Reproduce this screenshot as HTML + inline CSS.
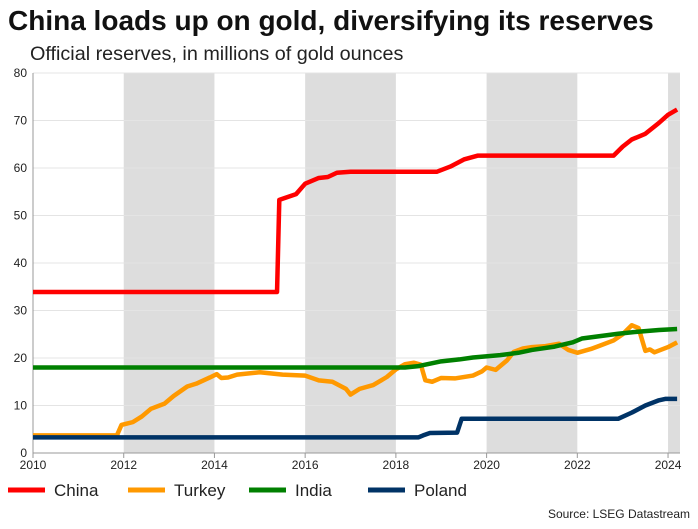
<!DOCTYPE html>
<html><head><meta charset="utf-8"><style>
body{margin:0;background:#fff;width:698px;height:524px;overflow:hidden;font-family:"Liberation Sans",sans-serif}
</style></head><body>
<svg width="698" height="524" font-family="Liberation Sans, sans-serif">
<text x="8" y="30" font-size="28" font-weight="bold" fill="#111">China loads up on gold, diversifying its reserves</text>
<text x="30" y="60" font-size="19.8" fill="#222">Official reserves, in millions of gold ounces</text>
<g id="bands"></g><g id="grid"></g><g id="axes"></g><g id="lines"></g>
<g id="legend"></g>
<text x="690" y="518" font-size="12" text-anchor="end" fill="#222">Source: LSEG Datastream</text>
</svg>
<script>
const yTicks=[0,10,20,30,40,50,60,70,80];
const xTicks=[2010,2012,2014,2016,2018,2020,2022,2024];
const bandStarts=[2012,2016,2020,2024];
const seriesNames=["China","Turkey","India","Poland"];
const seriesColors=["#ff0000","#ff9900","#008000","#003366"];
const chinaYears=[2010,2015.38,2015.43,2015.8,2016,2016.3,2016.5,2016.7,2017,2018.9,2019.2,2019.5,2019.8,2022.8,2023,2023.2,2023.5,2023.8,2024,2024.2];
const chinaVals=[33.9,33.9,53.3,54.5,56.7,57.9,58.1,59,59.2,59.2,60.3,61.8,62.6,62.6,64.5,66,67.2,69.5,71.2,72.3];
const turkeyYears=[2010,2011.85,2011.95,2012.2,2012.4,2012.6,2012.9,2013.1,2013.4,2013.6,2013.9,2014.05,2014.15,2014.3,2014.5,2015,2015.5,2016,2016.3,2016.6,2016.9,2017,2017.2,2017.5,2017.8,2018,2018.2,2018.4,2018.55,2018.65,2018.8,2019,2019.3,2019.7,2019.9,2020,2020.2,2020.45,2020.6,2020.8,2021,2021.3,2021.6,2021.8,2022,2022.3,2022.5,2022.8,2023,2023.2,2023.35,2023.5,2023.6,2023.7,2024,2024.2];
const turkeyVals=[3.7,3.7,5.9,6.5,7.7,9.3,10.4,12,14,14.6,15.9,16.6,15.8,15.9,16.5,17,16.5,16.3,15.3,15,13.5,12.3,13.5,14.3,16,17.6,18.7,19,18.6,15.3,15,15.8,15.7,16.3,17.2,18,17.5,19.5,21.3,22,22.3,22.5,23,21.7,21.1,21.9,22.6,23.7,25,26.9,26.3,21.5,21.8,21.2,22.3,23.3];
const indiaYears=[2010,2018.2,2018.5,2019,2019.4,2019.7,2020.3,2020.7,2021,2021.5,2021.9,2022.1,2022.5,2022.9,2023.3,2023.8,2024.2];
const indiaVals=[18,18,18.3,19.3,19.7,20.1,20.6,21.1,21.7,22.4,23.3,24.1,24.6,25.1,25.5,25.9,26.1];
const polandYears=[2010,2018.5,2018.6,2018.75,2019.35,2019.45,2022.9,2023.2,2023.5,2023.8,2023.95,2024.2];
const polandVals=[3.3,3.3,3.7,4.2,4.3,7.2,7.2,8.5,10,11.1,11.4,11.4];
const NS="http://www.w3.org/2000/svg";
const X0=33,X1=680,Y0=453,Y1=73;
const xs=y=>X0+(y-2010)*45.36;
const ys=v=>Y0-v*(Y0-Y1)/80;
function mk(t,a,p){const e=document.createElementNS(NS,t);for(const k in a)e.setAttribute(k,a[k]);p.appendChild(e);return e;}
const bands=document.getElementById('bands'),grid=document.getElementById('grid'),axes=document.getElementById('axes'),lines=document.getElementById('lines'),legend=document.getElementById('legend');
bandStarts.forEach(b=>{const x1=xs(b),x2=Math.min(xs(b+2),X1);
const r=mk('rect',{x:x1,y:Y1,width:x2-x1,height:Y0-Y1,fill:'#dddddd'},bands);

});
yTicks.forEach(t=>{const l=mk('line',{x1:X0,x2:X1,y1:ys(t),y2:ys(t),stroke:'#e4e4e4','stroke-width':1},grid);


const tx=mk('text',{x:27,y:ys(t)+4,'font-size':12,'text-anchor':'end',fill:'#222'},axes);tx.textContent=t;

});
mk('line',{x1:X0,x2:X0,y1:Y1,y2:Y0,stroke:'#999','stroke-width':1},axes);
mk('line',{x1:X0,x2:X1,y1:Y0,y2:Y0,stroke:'#999','stroke-width':1},axes);
xTicks.forEach(t=>{mk('line',{x1:xs(t),x2:xs(t),y1:Y0,y2:Y0+5,stroke:'#999'},axes);
const tx=mk('text',{x:xs(t),y:Y0+16,'font-size':12,'text-anchor':'middle',fill:'#222'},axes);tx.textContent=t;

});
const data=[[chinaYears,chinaVals],[turkeyYears,turkeyVals],[indiaYears,indiaVals],[polandYears,polandVals]];
[1,2,3,0].forEach(i=>{const [yr,v]=data[i];
const p=mk('polyline',{points:yr.map((y,j)=>xs(y)+','+ys(v[j])).join(' '),fill:'none',stroke:seriesColors[i],'stroke-width':4.5,'stroke-linejoin':'round'},lines);

});
const lx=[8,128,249,368];
seriesNames.forEach((n,i)=>{const g=mk('g',{},legend);


mk('line',{x1:lx[i],x2:lx[i]+37,y1:490,y2:490,stroke:seriesColors[i],'stroke-width':5},g);
const t=mk('text',{x:lx[i]+46,y:496,'font-size':17,fill:'#222'},g);t.textContent=n;});
</script>
</body></html>
